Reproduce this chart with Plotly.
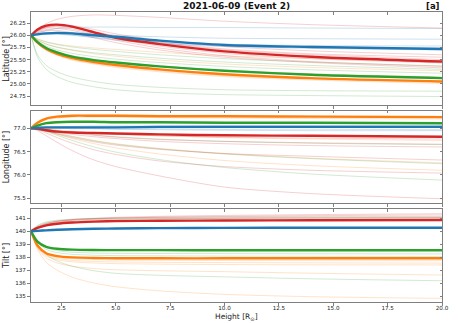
import plotly.graph_objects as go

# ---------------- data ----------------
HEIGHT = [1.1, 1.4, 1.8, 2.3, 3.0, 4.0, 5.0, 7.0, 10.0, 14.0, 20.0]

COLORS = {"blue": "#1f77b4", "orange": "#ff7f0e", "green": "#2ca02c", "red": "#d62728"}

# Latitude [deg]
LAT_MAIN = {
    "orange": [26.0, 25.85, 25.72, 25.62, 25.53, 25.45, 25.39, 25.30, 25.20, 25.12, 25.05],
    "green":  [26.0, 25.86, 25.74, 25.65, 25.56, 25.49, 25.44, 25.36, 25.27, 25.19, 25.12],
    "red":    [26.0, 26.12, 26.20, 26.22, 26.18, 26.06, 25.95, 25.82, 25.67, 25.56, 25.46],
    "blue":   [26.0, 26.02, 26.04, 26.05, 26.04, 26.00, 25.97, 25.89, 25.80, 25.76, 25.72],
}
LAT_ENS = {
    "red": [
        [26.0, 26.12, 26.24, 26.33, 26.39, 26.42, 26.41, 26.37, 26.29, 26.22, 26.15],
        [26.0, 26.10, 26.17, 26.20, 26.17, 26.08, 25.99, 25.86, 25.72, 25.62, 25.55],
        [26.0, 26.08, 26.15, 26.17, 26.13, 26.03, 25.93, 25.78, 25.63, 25.52, 25.43],
        [26.0, 26.07, 26.12, 26.14, 26.10, 26.00, 25.90, 25.74, 25.58, 25.46, 25.36],
        [26.0, 26.10, 26.18, 26.22, 26.20, 26.12, 26.03, 25.90, 25.77, 25.68, 25.60],
        [26.0, 26.05, 26.09, 26.10, 26.05, 25.95, 25.85, 25.70, 25.55, 25.44, 25.33],
        [26.0, 26.09, 26.16, 26.19, 26.16, 26.07, 25.97, 25.84, 25.70, 25.60, 25.50],
    ],
    "blue": [
        [26.0, 26.05, 26.10, 26.14, 26.16, 26.17, 26.17, 26.16, 26.16, 26.15, 26.14],
        [26.0, 26.03, 26.05, 26.06, 26.06, 26.03, 26.00, 25.97, 25.94, 25.93, 25.92],
        [26.0, 26.02, 26.03, 26.03, 26.01, 25.96, 25.92, 25.85, 25.79, 25.76, 25.74],
        [26.0, 26.02, 26.04, 26.05, 26.03, 25.99, 25.95, 25.88, 25.82, 25.79, 25.78],
        [26.0, 26.01, 26.02, 26.02, 26.00, 25.95, 25.90, 25.83, 25.77, 25.73, 25.70],
    ],
    "green": [
        [26.0, 25.60, 25.38, 25.25, 25.14, 25.05, 24.99, 24.93, 24.88, 24.86, 24.85],
        [26.0, 25.55, 25.30, 25.15, 25.03, 24.94, 24.88, 24.82, 24.78, 24.76, 24.74],
        [26.0, 25.90, 25.82, 25.76, 25.70, 25.64, 25.60, 25.53, 25.45, 25.38, 25.30],
        [26.0, 25.88, 25.78, 25.70, 25.63, 25.56, 25.51, 25.44, 25.36, 25.29, 25.22],
        [26.0, 25.92, 25.86, 25.81, 25.76, 25.71, 25.67, 25.60, 25.52, 25.45, 25.37],
    ],
    "orange": [
        [26.0, 25.93, 25.87, 25.82, 25.78, 25.74, 25.71, 25.65, 25.58, 25.52, 25.46],
        [26.0, 25.90, 25.82, 25.75, 25.69, 25.62, 25.57, 25.49, 25.41, 25.34, 25.27],
        [26.0, 25.84, 25.70, 25.60, 25.50, 25.42, 25.36, 25.27, 25.17, 25.10, 25.03],
        [26.0, 25.83, 25.69, 25.59, 25.49, 25.41, 25.34, 25.25, 25.15, 25.08, 25.01],
        [26.0, 25.86, 25.74, 25.66, 25.58, 25.50, 25.45, 25.37, 25.28, 25.21, 25.14],
    ],
}

# Longitude [deg]
LON_MAIN = {
    "orange": [77.0, 77.12, 77.21, 77.25, 77.27, 77.27, 77.27, 77.26, 77.26, 77.25, 77.24],
    "green":  [77.0, 77.06, 77.11, 77.13, 77.14, 77.14, 77.13, 77.13, 77.12, 77.12, 77.11],
    "red":    [77.0, 76.99, 76.96, 76.93, 76.91, 76.90, 76.89, 76.87, 76.85, 76.84, 76.82],
    "blue":   [77.0, 77.01, 77.02, 77.02, 77.02, 77.02, 77.02, 77.03, 77.03, 77.03, 77.03],
}
LON_ENS = {
    "red": [
        [77.0, 76.95, 76.84, 76.70, 76.52, 76.32, 76.18, 75.98, 75.74, 75.60, 75.49],
        [77.0, 76.97, 76.90, 76.80, 76.68, 76.54, 76.44, 76.30, 76.18, 76.10, 76.04],
        [77.0, 76.98, 76.94, 76.88, 76.80, 76.71, 76.64, 76.55, 76.46, 76.40, 76.32],
        [77.0, 76.99, 76.96, 76.92, 76.87, 76.82, 76.78, 76.72, 76.67, 76.63, 76.60],
        [77.0, 76.99, 76.97, 76.95, 76.92, 76.89, 76.87, 76.84, 76.81, 76.79, 76.77],
        [77.0, 76.99, 76.97, 76.94, 76.90, 76.85, 76.81, 76.76, 76.72, 76.69, 76.66],
    ],
    "green": [
        [77.0, 76.98, 76.93, 76.85, 76.74, 76.60, 76.49, 76.33, 76.16, 76.02, 75.89],
        [77.0, 76.99, 76.95, 76.89, 76.82, 76.73, 76.66, 76.56, 76.45, 76.35, 76.24],
        [77.0, 77.05, 77.10, 77.12, 77.13, 77.13, 77.12, 77.12, 77.11, 77.11, 77.10],
        [77.0, 77.00, 76.98, 76.95, 76.91, 76.86, 76.82, 76.77, 76.72, 76.68, 76.65],
    ],
    "orange": [
        [77.0, 76.99, 76.94, 76.87, 76.78, 76.67, 76.58, 76.45, 76.31, 76.20, 76.10],
        [77.0, 76.99, 76.96, 76.90, 76.83, 76.74, 76.67, 76.57, 76.46, 76.36, 76.26],
        [77.0, 77.10, 77.18, 77.22, 77.24, 77.24, 77.24, 77.23, 77.22, 77.21, 77.20],
        [77.0, 77.13, 77.22, 77.26, 77.28, 77.29, 77.29, 77.28, 77.28, 77.27, 77.26],
        [77.0, 77.00, 76.99, 76.97, 76.94, 76.91, 76.88, 76.84, 76.80, 76.77, 76.74],
    ],
    "blue": [
        [77.0, 77.00, 77.00, 77.00, 76.99, 76.99, 76.98, 76.97, 76.96, 76.95, 76.95],
        [77.0, 77.01, 77.02, 77.03, 77.04, 77.05, 77.05, 77.05, 77.06, 77.06, 77.06],
        [77.0, 77.00, 77.01, 77.01, 77.00, 77.00, 76.99, 76.99, 76.98, 76.98, 76.97],
    ],
}

# Tilt [deg]
TILT_MAIN = {
    "orange": [140.0, 138.90, 138.30, 138.08, 137.98, 137.94, 137.92, 137.91, 137.91, 137.91, 137.91],
    "green":  [140.0, 139.20, 138.80, 138.65, 138.58, 138.55, 138.54, 138.54, 138.53, 138.53, 138.53],
    "red":    [140.0, 140.25, 140.45, 140.58, 140.67, 140.74, 140.78, 140.81, 140.83, 140.85, 140.87],
    "blue":   [140.0, 140.03, 140.07, 140.11, 140.15, 140.19, 140.21, 140.24, 140.26, 140.27, 140.27],
}
TILT_ENS = {
    "red": [
        [140.0, 140.35, 140.60, 140.78, 140.90, 140.98, 141.02, 141.07, 141.10, 141.12, 141.14],
        [140.0, 140.30, 140.55, 140.72, 140.85, 140.95, 141.01, 141.08, 141.14, 141.20, 141.25],
        [140.0, 140.28, 140.50, 140.66, 140.77, 140.85, 140.90, 140.95, 140.99, 141.02, 141.05],
        [140.0, 140.32, 140.58, 140.76, 140.90, 141.00, 141.07, 141.15, 141.22, 141.28, 141.35],
        [140.0, 140.22, 140.42, 140.56, 140.66, 140.73, 140.77, 140.81, 140.84, 140.87, 140.90],
    ],
    "green": [
        [140.0, 140.45, 140.72, 140.85, 140.93, 140.98, 141.00, 141.02, 141.04, 141.05, 141.06],
        [140.0, 140.40, 140.65, 140.78, 140.86, 140.91, 140.94, 140.97, 140.99, 141.00, 141.01],
        [140.0, 139.00, 138.20, 137.70, 137.30, 136.95, 136.75, 136.60, 136.48, 136.33, 136.18],
        [140.0, 139.25, 138.75, 138.50, 138.38, 138.32, 138.30, 138.28, 138.27, 138.26, 138.25],
        [140.0, 139.15, 138.60, 138.35, 138.22, 138.15, 138.12, 138.10, 138.08, 138.07, 138.06],
    ],
    "orange": [
        [140.0, 138.60, 137.60, 137.00, 136.45, 136.00, 135.72, 135.40, 135.13, 134.95, 134.82],
        [140.0, 138.70, 137.95, 137.55, 137.30, 137.12, 137.03, 136.95, 136.88, 136.76, 136.62],
        [140.0, 138.80, 138.20, 137.90, 137.75, 137.67, 137.63, 137.60, 137.58, 137.56, 137.54],
        [140.0, 138.85, 138.25, 138.00, 137.88, 137.82, 137.78, 137.76, 137.74, 137.73, 137.72],
        [140.0, 138.75, 138.10, 137.80, 137.64, 137.55, 137.50, 137.46, 137.43, 137.41, 137.40],
    ],
    "blue": [
        [140.0, 140.03, 140.07, 140.11, 140.15, 140.19, 140.21, 140.24, 140.26, 140.27, 140.28],
        [140.0, 140.02, 140.06, 140.09, 140.13, 140.17, 140.19, 140.22, 140.24, 140.25, 140.25],
    ],
}

Y_TITLES = ["Latitude [°]", "Longitude [°]", "Tilt [°]"]
Y_RANGES = [[24.57, 26.48], [75.39, 77.38], [134.54, 141.7]]
Y_DTICK = [0.25, 0.5, 1]
Y_FMT = [".2f", ".1f", "d"]
X_RANGE = [1.1, 20.0]
TITLE = "2021-06-09 (Event 2)"
PANEL_TAG = "[a]"

# ---------------- figure ----------------
def rgba(hexc, a):
    h = hexc.lstrip("#")
    r, g, b = int(h[0:2], 16), int(h[2:4], 16), int(h[4:6], 16)
    return f"rgba({r},{g},{b},{a})"

fig = go.Figure()
panels = [(LAT_MAIN, LAT_ENS), (LON_MAIN, LON_ENS), (TILT_MAIN, TILT_ENS)]
ENS_ORDER = ["blue", "orange", "green", "red"]
MAIN_ORDER = ["orange", "green", "red", "blue"]

for i, (main, ens) in enumerate(panels):
    xa = "x" if i == 0 else f"x{i+1}"
    ya = "y" if i == 0 else f"y{i+1}"
    for c in ENS_ORDER:
        for series in ens.get(c, []):
            fig.add_trace(go.Scatter(
                x=HEIGHT, y=series, mode="lines", xaxis=xa, yaxis=ya,
                line=dict(color=rgba(COLORS[c], 0.28), width=0.8, shape="spline", smoothing=0.8),
                showlegend=False, hoverinfo="skip"))
    for c in MAIN_ORDER:
        fig.add_trace(go.Scatter(
            x=HEIGHT, y=main[c], mode="lines", xaxis=xa, yaxis=ya,
            line=dict(color=COLORS[c], width=2.4, shape="spline", smoothing=0.8),
            showlegend=False, hoverinfo="skip"))
    # dummy trace for mirrored inner tick axes
    fig.add_trace(go.Scatter(x=[None], y=[None], xaxis=f"x{i+4}", yaxis=f"y{i+4}",
                             showlegend=False, hoverinfo="skip"))

DOMAINS = [[0.680, 1.0], [0.340, 0.660], [0.0, 0.320]]
AX_COLOR = "#7f7f7f"
FONT = "DejaVu Sans"
tickfont = dict(family=FONT, size=5.6, color="#222")

layout = dict(
    width=458, height=323,
    margin=dict(l=31, r=9, t=12, b=21),
    paper_bgcolor="white", plot_bgcolor="white",
    font=dict(family=FONT, color="#222"),
    showlegend=False,
)
for i in range(3):
    xn = "xaxis" if i == 0 else f"xaxis{i+1}"
    yn = "yaxis" if i == 0 else f"yaxis{i+1}"
    xa = "x" if i == 0 else f"x{i+1}"
    ya = "y" if i == 0 else f"y{i+1}"
    layout[xn] = dict(
        domain=[0, 1], anchor=ya, range=X_RANGE, tick0=2.5, dtick=2.5, tickformat=".1f",
        showline=True, linecolor=AX_COLOR, linewidth=1, mirror=True,
        ticks="outside", ticklen=3, tickwidth=0.8, tickcolor=AX_COLOR,
        showgrid=False, zeroline=False, showticklabels=(i == 2), tickfont=tickfont,
        ticklabelstandoff=-3,
        matches="x" if i > 0 else None,
    )
    layout[yn] = dict(
        domain=DOMAINS[i], anchor=xa, range=Y_RANGES[i], dtick=Y_DTICK[i], tickformat=Y_FMT[i],
        showline=True, linecolor=AX_COLOR, linewidth=1, mirror=True,
        ticks="outside", ticklen=3, tickwidth=0.8, tickcolor=AX_COLOR,
        showgrid=False, zeroline=False, tickfont=tickfont,
    )
    # inner mirrored ticks (top and right)
    layout[f"xaxis{i+4}"] = dict(
        overlaying=xa, side="top", anchor=f"y{i+4}", range=X_RANGE, tick0=2.5, dtick=2.5,
        ticks="inside", ticklen=2.5, tickwidth=0.8, tickcolor=AX_COLOR,
        showticklabels=False, showgrid=False, zeroline=False, showline=False,
    )
    layout[f"yaxis{i+4}"] = dict(
        overlaying=ya, side="right", anchor=f"x{i+4}", range=Y_RANGES[i], dtick=Y_DTICK[i],
        ticks="inside", ticklen=2.5, tickwidth=0.8, tickcolor=AX_COLOR,
        showticklabels=False, showgrid=False, zeroline=False, showline=False,
    )

fig.update_layout(**layout)

annotations = [
    dict(text=f"<b>{TITLE}</b>", x=0.5, y=1.021, xref="paper", yref="paper",
         xanchor="center", yanchor="middle", showarrow=False,
         font=dict(family=FONT, size=9, color="#111")),
    dict(text=f"<b>{PANEL_TAG}</b>", x=1.0, y=1.021, xref="paper", yref="paper",
         xanchor="right", yanchor="middle", showarrow=False,
         font=dict(family=FONT, size=8.5, color="#111")),
    dict(text="Height [R<sub>⊙</sub>]", x=0.5, y=-0.053, xref="paper", yref="paper",
         xanchor="center", yanchor="middle", showarrow=False,
         font=dict(family=FONT, size=7.5, color="#222")),
]
for i, t in enumerate(Y_TITLES):
    d = DOMAINS[i]
    annotations.append(dict(text=t, x=-0.06, y=(d[0] + d[1]) / 2, xref="paper", yref="paper",
                            xanchor="center", yanchor="middle", textangle=-90, showarrow=False,
                            font=dict(family=FONT, size=8, color="#222")))
fig.update_layout(annotations=annotations)

fig.write_html("out.html", config={"displayModeBar": False},
               post_script="document.body.style.margin='0';document.body.style.padding='0';")
